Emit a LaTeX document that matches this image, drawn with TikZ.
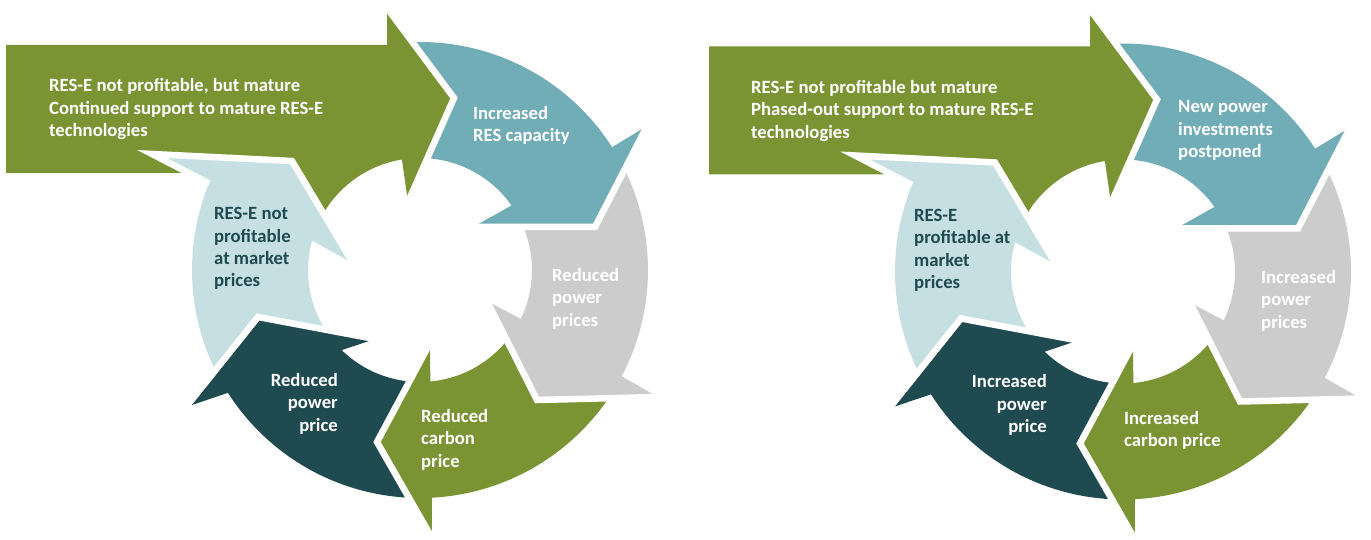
\documentclass[tikz,border=0pt]{standalone}
\usepackage{fontspec}
\setmainfont{Carlito}
\definecolor{cyclegreen}{RGB}{122,148,52}
\definecolor{cycleteal}{RGB}{113,173,183}
\definecolor{cyclegray}{RGB}{204,204,204}
\definecolor{cycledark}{RGB}{31,74,80}
\definecolor{cyclepale}{RGB}{198,223,227}
\begin{document}
\begin{tikzpicture}[x=1pt,y=-1pt,
    notch/.style={white,line width=6.5},
    lbl/.style={inner sep=0pt,align=left,font=\fontsize{18.7}{22.4}\selectfont\bfseries}]
    \useasboundingbox (0,0) rectangle (1371,540);
    \foreach \dx/\dy in {0/0,703/1.5}{
    \begin{scope}[shift={(\dx,\dy)}]
        \coordinate (c) at (420,270);
        % pale arrow (left)
        \fill[cyclepale] ([shift={(147.4:228)}]c) arc[start angle=147.4,end angle=202.3,radius=228]
            -- (152,154) -- (292,161) -- (353,263) -- ([shift={(195.3:112)}]c)
            arc[start angle=195.3,end angle=134.3,radius=112] -- cycle;
        % dark arrow (bottom left)
        \fill[cycledark] ([shift={(87:228)}]c) arc[start angle=87,end angle=147.4,radius=228]
            -- (186,407) -- (258,317) -- (375,339) -- ([shift={(134.3:112)}]c)
            arc[start angle=134.3,end angle=84.7,radius=112] -- cycle;
        \draw[notch] (186,407) -- (258,317) -- (375,339);
        % green arrow (bottom)
        \fill[cyclegreen] ([shift={(27.8:228)}]c) arc[start angle=27.8,end angle=87,radius=228]
            -- (432,538) -- (377,442) -- (430,343) -- ([shift={(84.7:112)}]c)
            arc[start angle=84.7,end angle=25.9,radius=112] -- cycle;
        \draw[notch] (432,538) -- (377,442) -- (430,343);
        % gray arrow (right)
        \fill[cyclegray] ([shift={(-32.6:228)}]c) arc[start angle=-32.6,end angle=27.8,radius=228]
            -- (658,397) -- (537,400) -- (487,301) -- ([shift={(25.9:112)}]c)
            arc[start angle=25.9,end angle=-35.2,radius=112] -- cycle;
        \draw[notch] (658,397) -- (537,400) -- (487,301);
        % teal arrow (top right)
        \fill[cycleteal] ([shift={(-97.3:228)}]c) arc[start angle=-97.3,end angle=-32.6,radius=228]
            -- (647,126) -- (595,227) -- (473,227) -- ([shift={(-35.2:112)}]c)
            arc[start angle=-35.2,end angle=-99.3,radius=112] -- cycle;
        \draw[notch] (647,126) -- (595,227) -- (473,227);
        % big green arrow (top)
        \fill[cyclegreen] (6,45) -- (387,45) -- (387,8) -- (454,98) -- (408,202) -- ([shift={(-99.3:112)}]c)
            arc[start angle=-99.3,end angle=-164.7,radius=112] -- ([shift={(-157.7:228)}]c)
            arc[start angle=-157.7,end angle=-154.8,radius=228] -- (6,173) -- cycle;
        \draw[notch] (387,8) -- (454,98) -- (408,202);
        % pale head again, over the big arrow
        \fill[cyclepale] ([shift={(199:228)}]c) arc[start angle=199,end angle=202.3,radius=228]
            -- (152,154) -- (292,161) -- (353,263) -- ([shift={(195.3:112)}]c)
            arc[start angle=195.3,end angle=191,radius=112] -- cycle;
        \draw[notch] ([shift={(202.3:228)}]c) -- (152,154) -- (292,161) -- (353,263);
    \end{scope}}
    % left cycle
    \node[lbl,white,anchor=base west] (l-start) at (49,136.7) {RES-E not profitable, but mature\\Continued support to mature RES-E\\technologies};
    \node[lbl,white,anchor=base west] (l-capacity) at (473,142) {Increased\\RES capacity};
    \node[lbl,white,anchor=base west] (l-prices) at (552,326) {Reduced\\power\\prices};
    \node[lbl,white,anchor=base west] (l-carbon) at (421,467) {Reduced\\carbon\\price};
    \node[lbl,white,anchor=base east,align=right] (l-price) at (338,431) {Reduced\\power\\price};
    \node[lbl,cycledark,anchor=base west] (l-market) at (214,287) {RES-E not\\profitable\\at market\\prices};
    % right cycle
    \node[lbl,white,anchor=base west] (r-start) at (751,138.2) {RES-E not profitable but mature\\Phased-out support to mature RES-E\\technologies};
    \node[lbl,white,anchor=base west] (r-invest) at (1178,157.5) {New power\\investments\\postponed};
    \node[lbl,white,anchor=base west] (r-prices) at (1261,328) {Increased\\power\\prices};
    \node[lbl,white,anchor=base west] (r-carbon) at (1124,446.9) {Increased\\carbon price};
    \node[lbl,white,anchor=base east,align=right] (r-price) at (1047,432.5) {Increased\\power\\price};
    \node[lbl,cycledark,anchor=base west] (r-market) at (914,288.5) {RES-E\\profitable at\\market\\prices};
\end{tikzpicture}
\end{document}
